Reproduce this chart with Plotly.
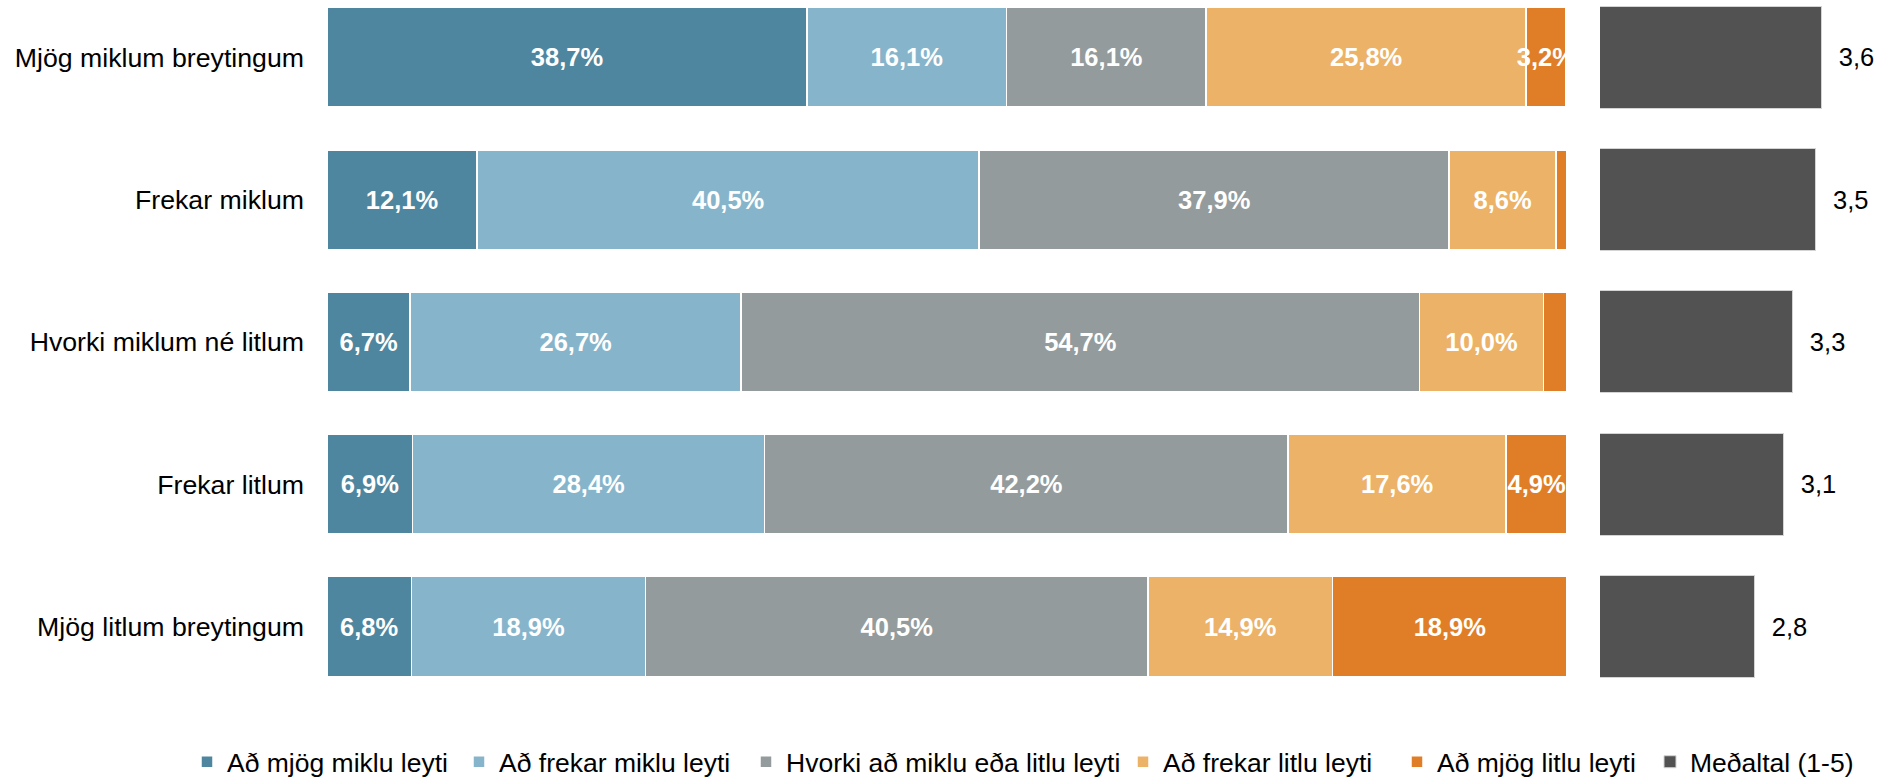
import plotly.graph_objects as go

categories = ["Mjög miklum breytingum", "Frekar miklum", "Hvorki miklum né litlum",
              "Frekar litlum", "Mjög litlum breytingum"]
series_names = ["Að mjög miklu leyti", "Að frekar miklu leyti",
                "Hvorki að miklu eða litlu leyti", "Að frekar litlu leyti",
                "Að mjög litlu leyti"]
s_mjog_miklu = [38.7, 12.1, 6.7, 6.9, 6.8]
s_frekar_miklu = [16.1, 40.5, 26.7, 28.4, 18.9]
s_hvorki = [16.1, 37.9, 54.7, 42.2, 40.5]
s_frekar_litlu = [25.8, 8.6, 10.0, 17.6, 14.9]
s_mjog_litlu = [3.2, 0.9, 1.9, 4.9, 18.9]
mean_name = "Meðaltal (1-5)"
means = [3.61, 3.54, 3.26, 3.15, 2.80]

series_values = [s_mjog_miklu, s_frekar_miklu, s_hvorki, s_frekar_litlu, s_mjog_litlu]
colors = ["#4E86A0", "#86B5CB", "#949B9C", "#ECB267", "#E07E27"]
mean_color = "#525252"

FONT = "Liberation Sans, Arial, sans-serif"
W, H = 1885, 778
PLOT_H = 700

legend_text_x = [227, 499, 786, 1163, 1437, 1690]

fig = go.Figure()

for i, (name, vals, col) in enumerate(zip(series_names, series_values, colors)):
    txt = [(f"{v:.1f}".replace(".", ",") + "%") if v >= 3 else "" for v in vals]
    fig.add_trace(go.Bar(
        y=categories, x=vals, name=name, orientation="h",
        marker=dict(color=col, line=dict(color="white", width=1.5)),
        width=0.70,
        text=txt, textposition="inside", insidetextanchor="middle",
        textangle=0, constraintext="none",
        textfont=dict(family=FONT, size=25.5, color="white", weight="bold"),
        cliponaxis=False,
        xaxis="x", yaxis="y",
        legend="legend" if i == 0 else f"legend{i+1}",
        hoverinfo="skip",
    ))

fig.add_trace(go.Bar(
    y=categories, x=means, name=mean_name, orientation="h",
    marker=dict(color=mean_color, line=dict(color="#d4d4d4", width=1)),
    width=0.717,
    texttemplate="\u00a0\u00a0%{x:.1f}", textposition="outside",
    textangle=0, constraintext="none",
    textfont=dict(family=FONT, size=25.5, color="black"),
    cliponaxis=False,
    xaxis="x2", yaxis="y",
    legend="legend6",
    hoverinfo="skip",
))

pitch = 142.3
top_px = 57.3
lo = -top_px / pitch
hi = lo + PLOT_H / pitch

legend_y = -(762 - PLOT_H) / PLOT_H
legends = {}
for k, tx in enumerate(legend_text_x):
    key = "legend" if k == 0 else f"legend{k+1}"
    legends[key] = dict(
        orientation="h", x=(tx - 40) / W, xanchor="left",
        y=legend_y, yanchor="middle",
        font=dict(family=FONT, size=26.5, color="black"),
        bgcolor="rgba(0,0,0,0)", borderwidth=0,
    )

fig.update_layout(
    width=W, height=H,
    margin=dict(l=0, r=0, t=0, b=H - PLOT_H, pad=0, autoexpand=False),
    barmode="stack",
    separators=",.",
    paper_bgcolor="white", plot_bgcolor="white",
    font=dict(family=FONT, color="black"),
    showlegend=True,
    xaxis=dict(domain=[327 / W, 1567 / W], range=[0, 100], visible=False,
               showgrid=False, zeroline=False, fixedrange=True),
    xaxis2=dict(domain=[1600 / W, 1.0], range=[0.93, 0.93 + 285 / 82.7],
                visible=False, showgrid=False, zeroline=False, anchor="y",
                fixedrange=True),
    yaxis=dict(type="category", categoryorder="array", categoryarray=categories,
               range=[hi, lo], showgrid=False, zeroline=False, showline=False,
               ticks="", ticklabelstandoff=22, automargin=False,
               tickfont=dict(family=FONT, size=26.7, color="black"),
               anchor="x", fixedrange=True),
    **legends,
)

fig.write_html("out.html", config={"displayModeBar": False})

with open("out.html", "r", encoding="utf-8") as f:
    html = f.read()
html = html.replace("<body>", '<body style="margin:0;overflow:hidden">', 1)
with open("out.html", "w", encoding="utf-8") as f:
    f.write(html)
